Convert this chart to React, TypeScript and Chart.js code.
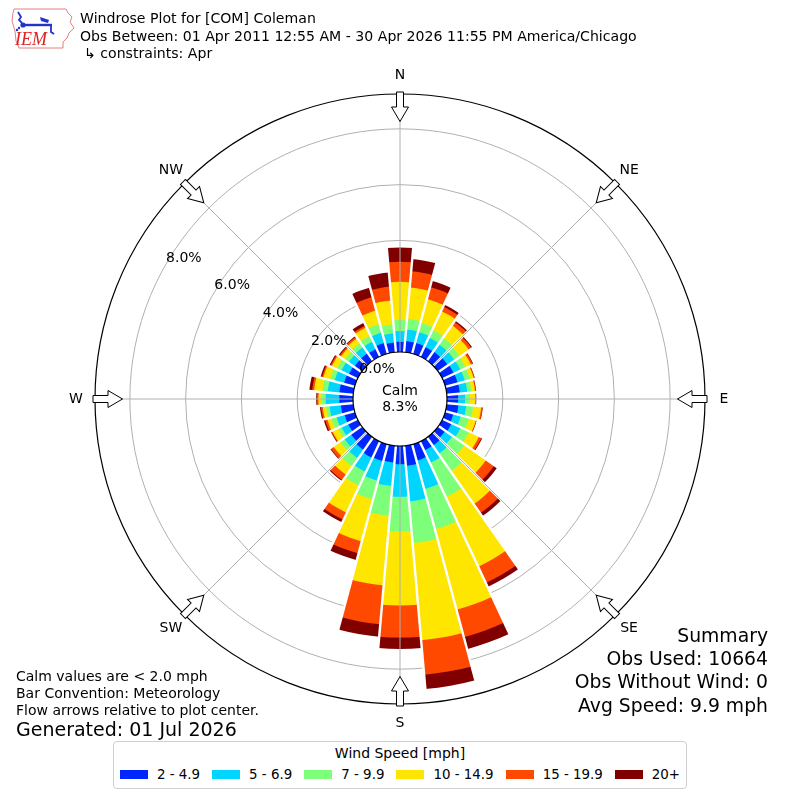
import React, { useEffect, useRef } from 'react';
import { Chart, registerables } from 'chart.js';

Chart.register(...registerables);

// ---------------- data ----------------
const directions = [0, 10, 20, 30, 40, 50, 60, 70, 80, 90, 100, 110, 120, 130, 140, 150, 160, 170,
  180, 190, 200, 210, 220, 230, 240, 250, 260, 270, 280, 290, 300, 310, 320, 330, 340, 350];

const speedBins = ['2 - 4.9', '5 - 6.9', '7 - 9.9', '10 - 14.9', '15 - 19.9', '20+'];
const binColors = ['#0026ff', '#00d5ff', '#7dff7a', '#ffe600', '#ff4800', '#800000'];

// percent of all observations, per direction bin
const speed2to5 = [0.37, 0.40, 0.40, 0.38, 0.40, 0.42, 0.45, 0.46, 0.47, 0.40, 0.42, 0.30, 0.36, 0.30, 0.36, 0.35, 0.60, 0.72,
  0.65, 0.60, 0.62, 0.65, 0.56, 0.48, 0.38, 0.38, 0.45, 0.49, 0.50, 0.40, 0.35, 0.32, 0.33, 0.30, 0.40, 0.35];
const speed5to7 = [0.38, 0.42, 0.40, 0.37, 0.32, 0.30, 0.27, 0.27, 0.27, 0.25, 0.28, 0.28, 0.36, 0.32, 0.36, 0.50, 1.06, 1.28,
  1.17, 0.85, 0.73, 0.55, 0.37, 0.29, 0.26, 0.30, 0.40, 0.49, 0.42, 0.35, 0.30, 0.26, 0.27, 0.30, 0.38, 0.33];
const speed7to10 = [0.40, 0.38, 0.35, 0.30, 0.28, 0.23, 0.20, 0.19, 0.15, 0.17, 0.25, 0.30, 0.33, 0.54, 0.77, 1.35, 1.49, 1.50,
  1.25, 1.07, 0.69, 0.55, 0.35, 0.18, 0.13, 0.19, 0.13, 0.15, 0.19, 0.17, 0.17, 0.17, 0.18, 0.22, 0.32, 0.32];
const speed10to15 = [1.37, 1.13, 0.88, 0.75, 0.55, 0.40, 0.22, 0.14, 0.13, 0.20, 0.29, 0.26, 0.40, 0.94, 1.43, 2.75, 2.99, 3.50,
  2.65, 2.50, 1.56, 1.07, 0.37, 0.30, 0.23, 0.15, 0.12, 0.11, 0.30, 0.25, 0.21, 0.17, 0.20, 0.33, 0.50, 0.86];
const speed15to20 = [0.72, 0.58, 0.44, 0.17, 0.15, 0.11, 0.07, 0.03, 0.03, 0.02, 0.05, 0.02, 0.10, 0.35, 0.40, 0.64, 1.02, 1.24,
  1.15, 1.40, 0.45, 0.28, 0.23, 0.12, 0.04, 0.08, 0.06, 0.05, 0.07, 0.05, 0.05, 0.06, 0.07, 0.07, 0.50, 0.50];
const speed20plus = [0.51, 0.44, 0.23, 0.08, 0.05, 0.04, 0.02, 0.01, 0.01, 0.01, 0.01, 0.01, 0.03, 0.13, 0.13, 0.16, 0.44, 0.51,
  0.41, 0.45, 0.25, 0.10, 0.04, 0.02, 0.02, 0.05, 0.04, 0.03, 0.10, 0.05, 0.04, 0.04, 0.03, 0.12, 0.35, 0.51];

const radialTicks = [0, 2, 4, 6, 8];
const compassLabels = ['N', 'NE', 'E', 'SE', 'S', 'SW', 'W', 'NW'];
const calmPercent = 8.3;

const titleLines = [
  'Windrose Plot for [COM] Coleman',
  'Obs Between: 01 Apr 2011 12:55 AM - 30 Apr 2026 11:55 PM America/Chicago',
];
const constraintLine = '\u21b3 constraints: Apr';
const noteLines = ['Calm values are < 2.0 mph', 'Bar Convention: Meteorology', 'Flow arrows relative to plot center.'];
const generatedLine = 'Generated: 01 Jul 2026';
const summaryLines = ['Summary', 'Obs Used: 10664', 'Obs Without Wind: 0', 'Avg Speed: 9.9 mph'];

// scale settings (percent units)
const R_MIN = -1.685;
const R_MAX = 9.25;

const bins = [speed2to5, speed5to7, speed7to10, speed10to15, speed15to20, speed20plus];
const cumulative = bins.map((_, k) =>
  directions.map((_, i) => {
    let s = 0;
    for (let j = 0; j <= k; j++) s += bins[j][i];
    return +s.toFixed(3);
  })
);
const totals = cumulative[cumulative.length - 1];

const FONT = '"DejaVu Sans", "Liberation Sans", sans-serif';

const decorPlugin = {
  id: 'windroseDecor',
  afterDatasetsDraw(chart: any) {
    const scale = chart.scales.r;
    const ctx = chart.ctx;
    const cx = scale.xCenter;
    const cy = scale.yCenter;
    const n = directions.length;
    ctx.save();
    ctx.strokeStyle = '#ffffff';
    ctx.lineWidth = 2.4;
    for (let i = 0; i < n; i++) {
      const a = scale.getIndexAngle(i) - Math.PI / 2;
      const v = Math.max(totals[(i - 1 + n) % n], totals[i]);
      const len = scale.getDistanceFromCenterForValue(v) + 3;
      ctx.beginPath();
      ctx.moveTo(cx, cy);
      ctx.lineTo(cx + Math.cos(a) * len, cy + Math.sin(a) * len);
      ctx.stroke();
    }
    ctx.restore();
  },
  afterDraw(chart: any) {
    const scale = chart.scales.r;
    const ctx = chart.ctx;
    const cx = scale.xCenter;
    const cy = scale.yCenter;
    const outer = scale.drawingArea;
    const hole = scale.getDistanceFromCenterForValue(0);
    ctx.save();

    // angle lines
    ctx.strokeStyle = '#b0b0b0';
    ctx.lineWidth = 1;
    compassLabels.forEach((_, k) => {
      const a = (k * 45 * Math.PI) / 180 - Math.PI / 2;
      ctx.beginPath();
      ctx.moveTo(cx, cy);
      ctx.lineTo(cx + Math.cos(a) * outer, cy + Math.sin(a) * outer);
      ctx.stroke();
    });

    // outer frame
    ctx.strokeStyle = '#000000';
    ctx.lineWidth = 1.2;
    ctx.beginPath();
    ctx.arc(cx, cy, outer, 0, Math.PI * 2);
    ctx.stroke();

    // calm circle
    ctx.fillStyle = '#ffffff';
    ctx.beginPath();
    ctx.arc(cx, cy, hole, 0, Math.PI * 2);
    ctx.fill();
    ctx.stroke();

    ctx.fillStyle = '#000000';
    ctx.font = `14px ${FONT}`;
    ctx.textAlign = 'center';
    ctx.textBaseline = 'middle';
    ctx.fillText('Calm', cx, cy - 8);
    ctx.fillText(`${calmPercent.toFixed(1)}%`, cx, cy + 8);

    // radial tick labels
    const la = (300 * Math.PI) / 180 - Math.PI / 2;
    ctx.textAlign = 'left';
    ctx.textBaseline = 'bottom';
    radialTicks.forEach((t) => {
      const d = scale.getDistanceFromCenterForValue(t);
      ctx.fillText(`${t.toFixed(1)}%`, cx + Math.cos(la) * d, cy + Math.sin(la) * d + 1);
    });

    // arrows and compass labels
    ctx.textAlign = 'center';
    ctx.textBaseline = 'middle';
    compassLabels.forEach((lab, k) => {
      const a = (k * 45 * Math.PI) / 180 - Math.PI / 2;
      const tail = outer + 2;
      ctx.save();
      ctx.translate(cx + Math.cos(a) * tail, cy + Math.sin(a) * tail);
      ctx.rotate(a + Math.PI);
      ctx.beginPath();
      ctx.moveTo(0, -3.5);
      ctx.lineTo(15, -3.5);
      ctx.lineTo(15, -8.5);
      ctx.lineTo(29.5, 0);
      ctx.lineTo(15, 8.5);
      ctx.lineTo(15, 3.5);
      ctx.lineTo(0, 3.5);
      ctx.closePath();
      ctx.fillStyle = '#ffffff';
      ctx.fill();
      ctx.strokeStyle = '#000000';
      ctx.lineWidth = 1;
      ctx.stroke();
      ctx.restore();
      ctx.fillStyle = '#000000';
      const lr = outer + 19;
      ctx.fillText(lab, cx + Math.cos(a) * lr, cy + Math.sin(a) * lr + 0.5);
    });
    ctx.restore();
  },
};

function Logo() {
  return (
    <svg width="72" height="50" viewBox="0 0 72 50" style={{ position: 'absolute', left: 8, top: 2 }}>
      <path
        d="M6 7 L58 7 L60 11 L64 15 L62 20 L66 26 L61 31 L59 36 L55 40 L55 46 L11 46 L8 39 L7 29 L4 19 L5 11 Z"
        fill="none"
        stroke="#e58080"
        strokeWidth="1"
      />
      <path d="M10 10 L13 15 L11 18 L14 21" fill="none" stroke="#2233cc" strokeWidth="1.8" />
      <line x1="13" y1="23" x2="44" y2="23" stroke="#2233cc" strokeWidth="2.4" />
      <circle cx="15" cy="23" r="2.6" fill="#2233cc" />
      <path d="M32 15 L41 18 L40 21 L33 19 Z" fill="#2233cc" />
      <path d="M43 22 L43 30 L46 32" fill="none" stroke="#2233cc" strokeWidth="1.8" />
      <circle cx="11" cy="26" r="1.2" fill="#2233cc" />
      <circle cx="9" cy="28" r="1.2" fill="#2233cc" />
      <text x="7" y="43" fontFamily='"Liberation Serif", serif' fontStyle="italic" fontSize="18" fill="#dd2222">
        IEM
      </text>
    </svg>
  );
}

export default function App() {
  const canvasRef = useRef<HTMLCanvasElement | null>(null);

  useEffect(() => {
    if (!canvasRef.current) return;
    const chart = new Chart(canvasRef.current, {
      type: 'polarArea',
      data: {
        labels: directions.map((d) => `${d}\u00b0`),
        datasets: cumulative.map((vals, k) => ({
          label: speedBins[k],
          data: vals,
          backgroundColor: binColors[k],
          borderWidth: 0,
        })),
      },
      options: {
        responsive: false,
        animation: false,
        devicePixelRatio: 1,
        layout: { padding: { left: 95, right: 95, top: 94, bottom: 96 } },
        plugins: { legend: { display: false }, tooltip: { enabled: false } },
        scales: {
          r: {
            min: R_MIN,
            max: R_MAX,
            startAngle: -5,
            z: 1,
            ticks: { display: false },
            grid: {
              circular: true,
              lineWidth: 1,
              color: (c: any) => (c.tick && c.tick.value === 0 ? 'rgba(0,0,0,0)' : '#b0b0b0'),
            },
            angleLines: { display: false },
            pointLabels: { display: false },
            afterBuildTicks: (s: any) => {
              s.ticks = radialTicks.map((v) => ({ value: v }));
            },
          },
        },
      } as any,
      plugins: [decorPlugin],
    });
    return () => chart.destroy();
  }, []);

  const textBase: React.CSSProperties = { position: 'absolute', fontFamily: FONT, color: '#000', whiteSpace: 'nowrap' };

  return (
    <div style={{ position: 'absolute', left: 0, top: 0, width: 800, height: 800, background: '#fff', overflow: 'hidden' }}>
      <canvas ref={canvasRef} width={800} height={800} style={{ position: 'absolute', left: 0, top: 0, width: 800, height: 800 }} />
      <Logo />
      <div style={{ ...textBase, left: 80, top: 10, fontSize: 14.1, lineHeight: '17.5px' }}>
        {titleLines.map((t) => (
          <div key={t}>{t}</div>
        ))}
        <div style={{ paddingLeft: 4 }}>{constraintLine}</div>
      </div>
      <div style={{ ...textBase, left: 16, top: 667.5, fontSize: 14, lineHeight: '17px' }}>
        {noteLines.map((t) => (
          <div key={t}>{t}</div>
        ))}
      </div>
      <div style={{ ...textBase, left: 16, top: 717.5, fontSize: 19, lineHeight: '23px' }}>{generatedLine}</div>
      <div style={{ ...textBase, right: 32, top: 624, fontSize: 18.8, lineHeight: '23.2px', textAlign: 'right' }}>
        {summaryLines.map((t) => (
          <div key={t}>{t}</div>
        ))}
      </div>
      <div
        style={{
          position: 'absolute',
          left: 113,
          top: 741,
          width: 574,
          height: 48,
          boxSizing: 'border-box',
          border: '1px solid #d0d0d0',
          borderRadius: 4,
          fontFamily: FONT,
          fontSize: 14,
          background: '#fff',
          whiteSpace: 'nowrap',
        }}
      >
        <div style={{ textAlign: 'center', lineHeight: '17px', marginTop: 3 }}>Wind Speed [mph]</div>
        <div
          style={{
            display: 'flex',
            alignItems: 'center',
            justifyContent: 'center',
            marginTop: 4,
            lineHeight: '17px',
            fontSize: 13.4,
          }}
        >
          {speedBins.map((b, k) => (
            <div
              key={b}
              style={{ display: 'flex', alignItems: 'center', flexShrink: 0, marginRight: k === speedBins.length - 1 ? 0 : 12 }}
            >
              <span style={{ display: 'inline-block', width: 28, height: 9, background: binColors[k], marginRight: 9 }} />
              <span style={{ whiteSpace: 'nowrap' }}>{b}</span>
            </div>
          ))}
        </div>
      </div>
    </div>
  );
}
